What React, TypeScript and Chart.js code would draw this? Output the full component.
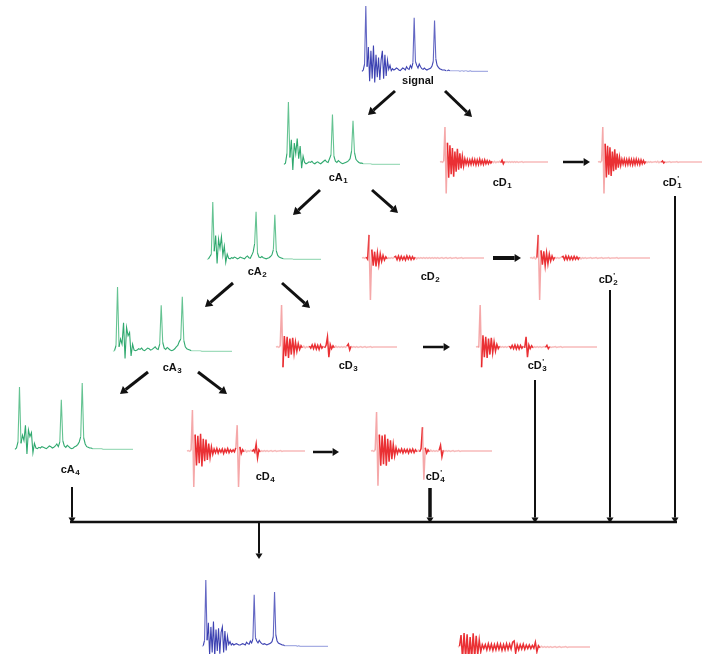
import React, { useEffect, useRef } from 'react';
import { Chart, registerables } from 'chart.js';
Chart.register(...registerables);

// ---- signal values (amplitude units) ----
const SIGNAL = [1, 3, 12, 100, 8, 38, -14, 32, -10, 40, -16, 26, -8, 22, -12, 18, 32, -10, 26, -6,
  18, 4, 10, 2, 5, 3, 4, 6, 5, 3, 2, 4, 6, 5, 3, 8, 5, 4, 10, 6,
  14, 82, 16, 10, 6, 12, 8, 5, 4, 6, 4, 3, 4, 5, 6, 9, 16, 78, 20, 10,
  7, 5, 4, 3, 3, 3, 2, 2, 3, 2, 2, 2, 2, 2, 2, 2, 2, 1, 2, 2,
  1, 2, 2, 1, 1, 2, 1, 1, 1, 1, 1, 1, 1, 1, 1, 1, 1, 1, 1, 1];
const RECON = [1, 2, 10, 100, 10, 36, -12, 30, -8, 38, -14, 26, -6, 28, -10, 22, 30, -8, 24, -5,
  16, 4, 8, 3, 5, 3, 4, 5, 4, 3, 3, 4, 5, 4, 3, 7, 5, 4, 9, 6,
  12, 78, 14, 9, 6, 10, 7, 5, 4, 5, 4, 3, 4, 5, 6, 8, 15, 82, 18, 9,
  6, 5, 4, 3, 3, 2, 2, 2, 2, 2, 2, 2, 2, 2, 2, 1, 2, 1, 1, 1,
  1, 1, 1, 1, 1, 1, 1, 1, 1, 1, 1, 1, 1, 1, 1, 1, 1, 1, 1, 1];
const CA1 = [1, 3, 18, 100, 12, 40, -8, 35, 18, 42, 10, 30, -5, 14, 4, 2, 3, 5, 4, 6,
  3, 2, 4, 5, 3, 2, 4, 6, 8, 5, 4, 10, 16, 80, 14, 6, 4, 7, 5, 3,
  2, 3, 4, 5, 7, 10, 22, 70, 20, 9, 6, 4, 3, 3, 2, 2, 2, 2, 2, 2,
  1, 1, 1, 1, 1, 1, 1, 1, 1, 1, 1, 1, 1, 1, 1, 1, 1, 1, 1, 1];
const CA2 = [1, 2, 6, 10, 100, 15, 42, -6, 36, 20, 40, 8, 24, -4, 10, 3, 2, 4, 3, 5,
  4, 2, 3, 5, 4, 3, 2, 5, 7, 4, 3, 8, 14, 28, 83, 12, 5, 4, 6, 4,
  3, 2, 3, 4, 6, 9, 18, 78, 16, 8, 5, 4, 3, 2, 2, 2, 2, 2, 2, 2,
  1, 1, 1, 1, 1, 1, 1, 1, 1, 1, 1, 1, 1, 1, 1, 1, 1, 1, 1, 1];
const CA3 = [1, 2, 10, 100, 8, 20, 12, 45, -10, 38, 25, 30, -6, 12, 3, 2, 3, 5, 4, 6,
  3, 2, 4, 6, 5, 3, 4, 6, 8, 5, 4, 12, 72, 15, 6, 4, 7, 5, 3, 2,
  3, 5, 8, 10, 16, 20, 85, 18, 8, 5, 4, 3, 2, 2, 2, 2, 2, 2, 2, 1,
  1, 1, 1, 1, 1, 1, 1, 1, 1, 1, 1, 1, 1, 1, 1, 1, 1, 1, 1, 1];
const CA4 = [1, 3, 12, 94, 10, 22, 14, 37, -6, 30, 20, 26, -4, 10, 3, 2, 4, 3, 5, 4,
  3, 2, 4, 6, 5, 3, 4, 6, 9, 5, 12, 75, 14, 6, 4, 7, 5, 3, 2, 3,
  5, 6, 8, 12, 20, 100, 18, 9, 5, 4, 3, 3, 2, 2, 2, 2, 2, 2, 2, 1,
  1, 1, 1, 1, 1, 1, 1, 1, 1, 1, 1, 1, 1, 1, 1, 1, 1, 1, 1, 1];
const CD1 = [0, 1, -1, 2, 100, -90, 55, -45, 48, -35, 40, -42, 30, -28, 38, -22, 25, -18, 16, -12,
  9, -6, 7, -8, 6, -7, 8, -6, 7, -8, 6, -7, 8, -6, 5, -7, 6, -5, 4, -5,
  3, -3, 2, -2, 2, -2, 1, -1, 2, -2, 5, -5, 2, -1, 1, -1, 1, -1, 1, -1,
  1, -1, 1, -1, 0, 0, 1, -1, 0, 0, 0, 0, 0, 0, 0, 0, 0, 0, 0, 0, 0, 0, 0, 0, 0, 0, 0, 0];
const CD1T = [0, 1, -1, 2, 100, -90, 52, -44, 46, -36, 42, -40, 30, -26, 36, -22, 24, -16, 14, -10,
  8, -6, 8, -8, 7, -7, 8, -7, 7, -8, 7, -7, 8, -6, 6, -7, 6, -5, 4, -4,
  2, -2, 1, -1, 1, -1, 0, 0, 1, -1, 2, -2, 1, -1, 3, -3, 1, -1, 0, 0,
  1, -1, 0, 0, 0, 0, 1, -1, 0, 0, 0, 0, 0, 0, 0, 0, 0, 0, 0, 0, 0, 0, 0, 0, 0, 0, 0, 0];
const CD2 = [0, 1, -1, 2, -3, 55, -100, 20, -18, 15, -20, 12, -16, 10, -8, 6, -5, 3, -2, 1,
  -1, 1, -1, 2, 4, -4, 5, -5, 4, -4, 3, -5, 5, -3, 4, -4, 3, -3, 2, -2,
  1, -1, 1, -1, 1, -1, 1, -1, 1, -1, 1, -1, 1, -1, 1, -1, 0, 1, -1, 0,
  1, -1, 0, 1, -1, 0, 0, 1, -1, 0, 0, 1, -1, 0, 0, 0, 0, 0, 0, 0, 0, 0, 0, 0, 0, 0, 0, 0];
const CD2T = [0, 1, -1, 2, -2, 1, 55, -100, 18, -16, 16, -18, 12, -14, 9, -7, 5, -4, 2, -1,
  1, -1, 1, 2, 4, -4, 5, -4, 4, -4, 3, -4, 4, -3, 3, -3, 2, -2, 1, -1,
  1, -1, 0, 0, 1, -1, 0, 0, 1, -1, 0, 0, 1, -1, 0, 0, 0, 1, -1, 0,
  0, 0, 0, 1, -1, 0, 0, 0, 0, 0, 0, 0, 0, 0, 0, 0, 0, 0, 0, 0, 0, 0, 0, 0, 0, 0, 0, 0];
const CD3 = [0, 1, -1, 2, 100, -48, 26, -22, 24, -26, 20, -18, 22, -15, 12, -10, 8, -6, 3, -2,
  2, -2, 1, -1, 2, -3, 5, -4, 6, -5, 4, -6, 5, -3, 2, -2, 4, 24, -24, 6,
  -4, 3, -2, 2, -1, 1, -1, 1, -1, 1, -1, 2, 7, -7, 2, -1, 1, -1, 1, -1,
  0, 1, -1, 0, 1, -1, 0, 0, 1, -1, 0, 0, 0, 0, 0, 0, 0, 0, 0, 0, 0, 0, 0, 0, 0, 0, 0, 0];
const CD3T = [0, 1, -1, 100, -48, 28, -24, 24, -26, 20, -18, 22, -14, 12, -10, 6, -4, 2, -1, 1,
  -1, 1, -1, 1, 2, -3, 4, -4, 5, -5, 4, -5, 4, -3, 2, -2, 24, -24, 5, -4,
  3, -2, 1, -1, 1, -1, 1, -1, 0, 1, -1, 4, -4, 1, -1, 0, 0, 1, -1, 0,
  0, 1, -1, 0, 0, 0, 0, 0, 0, 0, 0, 0, 0, 0, 0, 0, 0, 0, 0, 0, 0, 0, 0, 0, 0, 0, 0, 0];
const CD4 = [0, 1, -1, 2, 100, -88, 40, -35, 37, -30, 42, -38, 30, -25, 28, -22, 18, -15, 10, -8,
  5, -4, 6, -5, 4, -3, 5, -6, 4, -3, 6, -4, 3, -2, 3, -2, 8, 63, -88, 10,
  -6, 3, -2, 2, -2, 1, -1, 2, -1, 3, -3, 17, -17, 3, -2, 1, -1, 1, -1, 1,
  -1, 0, 1, -1, 0, 1, -1, 0, 0, 1, -1, 0, 0, 0, 0, 0, 0, 0, 0, 0, 0, 0, 0, 0, 0, 0, 0, 0];
const CD4T = [0, 1, -1, 2, 95, -85, 40, -36, 38, -32, 40, -36, 30, -26, 26, -20, 16, -12, 8, -6,
  4, -3, 5, -5, 4, -3, 4, -5, 4, -3, 5, -4, 3, -2, 2, -2, 6, 58, -70, 8,
  -5, 3, -2, 2, -1, 1, -1, 1, -1, 2, 14, -14, 2, -1, 1, -1, 1, -1, 0, 1,
  -1, 0, 0, 1, -1, 0, 0, 0, 0, 0, 0, 0, 0, 0, 0, 0, 0, 0, 0, 0, 0, 0, 0, 0, 0, 0, 0, 0];
const RECD = [0, 2, 30, -30, 35, -28, 32, -35, 25, -30, 34, -26, 28, -20, 18, -12, 6, -4, 6, -7,
  8, -6, 7, -8, 6, -7, 8, -6, 7, -8, 6, -7, 8, -6, 7, -5, 12, 15, -15, 6,
  -7, 6, -5, 7, -6, 5, -4, 5, -4, 4, -3, 12, -12, 3, -2, 2, -1, 1, -1, 1,
  -1, 1, -1, 0, 1, -1, 0, 1, -1, 0, 0, 1, -1, 0, 0, 0, 0, 0, 0, 0, 0, 0, 0, 0, 0, 0, 0, 0];

// ---- layout (pixel placement of each small plot) ----
type Panel = { values: number[]; x0: number; x1: number; base: number; amp: number; kind: 'blue' | 'green' | 'red' };
const PANELS: Panel[] = [
  { values: SIGNAL, x0: 362, x1: 488, base: 72, amp: 66, kind: 'blue' },
  { values: CA1, x0: 284, x1: 400, base: 165, amp: 63, kind: 'green' },
  { values: CD1, x0: 440, x1: 548, base: 162, amp: 35, kind: 'red' },
  { values: CD1T, x0: 598, x1: 702, base: 162, amp: 35, kind: 'red' },
  { values: CA2, x0: 207, x1: 321, base: 260, amp: 58, kind: 'green' },
  { values: CD2, x0: 362, x1: 484, base: 258, amp: 42, kind: 'red' },
  { values: CD2T, x0: 530, x1: 650, base: 258, amp: 42, kind: 'red' },
  { values: CA3, x0: 113, x1: 232, base: 352, amp: 65, kind: 'green' },
  { values: CD3, x0: 276, x1: 397, base: 347, amp: 42, kind: 'red' },
  { values: CD3T, x0: 476, x1: 597, base: 347, amp: 42, kind: 'red' },
  { values: CA4, x0: 15, x1: 133, base: 450, amp: 67, kind: 'green' },
  { values: CD4, x0: 187, x1: 305, base: 451, amp: 41, kind: 'red' },
  { values: CD4T, x0: 371, x1: 492, base: 451, amp: 41, kind: 'red' },
  { values: RECON, x0: 202, x1: 328, base: 647, amp: 67, kind: 'blue' },
  { values: RECD, x0: 458, x1: 590, base: 647, amp: 40, kind: 'red' },
];

const COLORS = {
  blue: { dark: 'rgba(40,45,170,0.9)', pale: 'rgba(130,140,215,0.7)', big: 'rgba(60,65,180,0.8)', w: 1.1 },
  green: { dark: 'rgba(25,160,95,0.9)', pale: 'rgba(120,205,160,0.7)', big: 'rgba(50,175,110,0.75)', w: 1.1 },
  red: { dark: 'rgba(232,25,30,0.9)', pale: 'rgba(242,150,150,0.65)', big: 'rgba(238,110,112,0.6)', w: 1.5 },
};

// [label, subscript, prime, cx, cy]
const LABELS: [string, string, boolean, number, number][] = [
  ['signal', '', false, 418, 81],
  ['cA', '1', false, 338, 178],
  ['cD', '1', false, 502, 183],
  ['cD', '1', true, 672, 183],
  ['cA', '2', false, 257, 272],
  ['cD', '2', false, 430, 277],
  ['cD', '2', true, 608, 280],
  ['cA', '3', false, 172, 368],
  ['cD', '3', false, 348, 366],
  ['cD', '3', true, 537, 366],
  ['cA', '4', false, 70, 470],
  ['cD', '4', false, 265, 477],
  ['cD', '4', true, 435, 477],
];

// [x1, y1, x2, y2, lineWidth, headSize]
const ARROWS: number[][] = [
  [395, 91, 368, 115, 3, 9],
  [445, 91, 472, 117, 3, 9],
  [320, 190, 293, 215, 3, 9],
  [372, 190, 398, 213, 3, 9],
  [233, 283, 205, 307, 3, 9],
  [282, 283, 310, 308, 3, 9],
  [148, 372, 120, 394, 3, 9],
  [198, 372, 227, 394, 3, 9],
  [563, 162, 590, 162, 2.5, 8],
  [493, 258, 521, 258, 4, 8],
  [423, 347, 450, 347, 2.5, 8],
  [313, 452, 339, 452, 2.5, 8],
  [675, 196, 675, 523, 2, 7],
  [610, 290, 610, 523, 2, 7],
  [535, 380, 535, 523, 2, 7],
  [430, 488, 430, 523, 3.5, 7],
  [72, 487, 72, 523, 2, 7],
  [259, 522, 259, 559, 2, 7],
];
const BUS = [70, 522, 677, 522, 2.5];

function panelPoints(p: Panel) {
  const n = p.values.length;
  return p.values.map((v, i) => ({ x: p.x0 + ((p.x1 - p.x0) * i) / (n - 1), y: p.base - (v * p.amp) / 100 }));
}

const diagramPlugin = {
  id: 'diagram',
  afterDatasetsDraw(chart: any) {
    const ctx = chart.ctx as CanvasRenderingContext2D;
    const sx = chart.scales.x;
    const sy = chart.scales.y;
    const X = (v: number) => sx.getPixelForValue(v);
    const Y = (v: number) => sy.getPixelForValue(v);
    ctx.save();
    ctx.strokeStyle = '#111';
    ctx.fillStyle = '#111';
    ctx.lineCap = 'butt';
    ctx.lineWidth = BUS[4];
    ctx.beginPath();
    ctx.moveTo(X(BUS[0]), Y(BUS[1]));
    ctx.lineTo(X(BUS[2]), Y(BUS[3]));
    ctx.stroke();
    for (const a of ARROWS) {
      const [x1, y1, x2, y2, lw, hs] = a;
      const px1 = X(x1), py1 = Y(y1), px2 = X(x2), py2 = Y(y2);
      const ang = Math.atan2(py2 - py1, px2 - px1);
      const bx = px2 - Math.cos(ang) * hs * 0.8;
      const by = py2 - Math.sin(ang) * hs * 0.8;
      ctx.lineWidth = lw;
      ctx.beginPath();
      ctx.moveTo(px1, py1);
      ctx.lineTo(bx, by);
      ctx.stroke();
      const w = hs * 0.5;
      ctx.beginPath();
      ctx.moveTo(px2, py2);
      ctx.lineTo(bx + Math.cos(ang + Math.PI / 2) * w, by + Math.sin(ang + Math.PI / 2) * w);
      ctx.lineTo(bx + Math.cos(ang - Math.PI / 2) * w, by + Math.sin(ang - Math.PI / 2) * w);
      ctx.closePath();
      ctx.fill();
    }
    ctx.textBaseline = 'middle';
    ctx.textAlign = 'left';
    const base = 'bold 11px "Liberation Sans", Arial, sans-serif';
    const small = 'bold 8px "Liberation Sans", Arial, sans-serif';
    for (const [t, sub, prime, cx, cy] of LABELS) {
      ctx.font = base;
      const wb = ctx.measureText(t).width;
      ctx.font = small;
      const ws = sub ? ctx.measureText(sub).width : 0;
      const total = wb + ws;
      const left = X(cx) - total / 2;
      const yy = Y(cy);
      ctx.font = base;
      ctx.fillText(t, left, yy);
      if (sub) {
        ctx.font = small;
        ctx.fillText(sub, left + wb + 0.5, yy + 3);
      }
      if (prime) {
        ctx.font = small;
        ctx.fillText("'", left + wb + 0.5, yy - 4);
      }
    }
    ctx.restore();
  },
};

export default function App() {
  const ref = useRef<HTMLCanvasElement | null>(null);
  useEffect(() => {
    if (!ref.current) return;
    const datasets = PANELS.map((p) => {
      const c = COLORS[p.kind];
      return {
        data: panelPoints(p),
        showLine: true,
        pointRadius: 0,
        borderWidth: c.w,
        borderColor: c.dark,
        clip: false as any,
        segment: {
          borderColor: (s: any) => {
            const a = Math.max(Math.abs(p.values[s.p0DataIndex]), Math.abs(p.values[s.p1DataIndex]));
            if (a < 3) return c.pale;
            if (a > 60) return c.big;
            return c.dark;
          },
        },
      };
    });
    const chart = new Chart(ref.current, {
      type: 'scatter',
      data: { datasets },
      options: {
        animation: false,
        responsive: false,
        maintainAspectRatio: false,
        layout: { padding: 0 },
        plugins: { legend: { display: false }, tooltip: { enabled: false } },
        events: [],
        scales: {
          x: { type: 'linear', min: 0, max: 709, display: false },
          y: { type: 'linear', min: 0, max: 654, reverse: true, display: false },
        },
      },
      plugins: [diagramPlugin],
    });
    return () => chart.destroy();
  }, []);
  return (
    <div style={{ position: 'absolute', left: 0, top: 0, width: 709, height: 654, background: '#fff' }}>
      <canvas ref={ref} width={709} height={654} style={{ display: 'block', width: 709, height: 654 }} />
    </div>
  );
}
